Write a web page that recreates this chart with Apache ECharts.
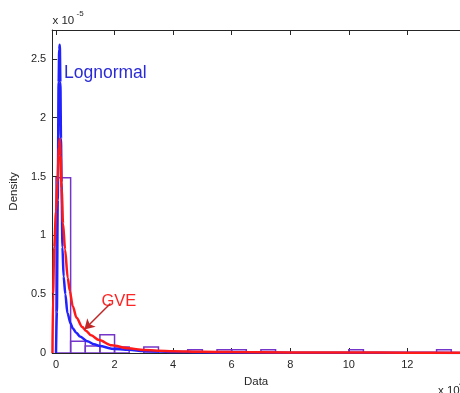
<!DOCTYPE html>
<html><head><meta charset="utf-8">
<script src="https://cdn.jsdelivr.net/npm/echarts@6/dist/echarts.min.js"></script>
<style>html,body{margin:0;padding:0;background:#fff}#c{width:460px;height:393px}</style>
</head><body><div id="c"></div>
<script>
// Tick labels (x in units of 1e4, density in units of 1e-5)
const xTicks = [0, 2, 4, 6, 8, 10, 12];
const yTicks = [0, 0.5, 1, 1.5, 2, 2.5];

// Histogram: bin start, bin width, bar heights
const binStarts = [0, 0.5, 1.0, 1.5, 2.0, 3.0, 4.5, 5.5, 6.0, 7.0, 10.0, 13.0];
const binWidth = 0.5;
const binHeights = [1.49, 0.10, 0.06, 0.155, 0.05, 0.05, 0.028, 0.028, 0.028, 0.028, 0.028, 0.028];

// Lognormal fit curve
const lognX = [0, 0.03, 0.06, 0.09, 0.11, 0.13, 0.15, 0.17, 0.19, 0.22, 0.26, 0.32, 0.39, 0.5, 0.57, 0.7, 0.82, 1.07, 1.3, 1.5, 1.9, 2.5, 3.0, 3.5, 4.0, 5.0, 6.0, 8.0, 10.0, 12.0, 13.8];
const lognY = [0, 0.35, 1.3, 2.3, 2.58, 2.62, 2.3, 1.82, 1.45, 0.9, 0.65, 0.5, 0.34, 0.25, 0.21, 0.17, 0.14, 0.1, 0.075, 0.06, 0.037, 0.027, 0.016, 0.012, 0.009, 0.006, 0.004, 0.003, 0.002, 0.0015, 0.001];

// GVE fit curve
const gveX = [-0.12, -0.1, -0.06, 0.0, 0.05, 0.1, 0.13, 0.16, 0.19, 0.24, 0.31, 0.4, 0.47, 0.57, 0.7, 0.9, 1.02, 1.2, 1.47, 1.9, 2.47, 3.0, 3.47, 4.0, 5.0, 6.0, 8.0, 10.0, 12.0, 13.8];
const gveY = [0, 0.5, 0.9, 1.2, 1.45, 1.75, 1.82, 1.68, 1.4, 1.1, 0.88, 0.64, 0.53, 0.4, 0.3, 0.22, 0.19, 0.15, 0.11, 0.065, 0.04, 0.026, 0.02, 0.015, 0.01, 0.008, 0.005, 0.004, 0.003, 0.0025];

// Annotation arrow (data coords)
const arrowFrom = [1.86, 0.42];
const arrowTo = [0.97, 0.2];

const X_MIN = -0.13, X_MAX = 13.8, Y_MIN = 0, Y_MAX = 2.745;
const FONT = '"Liberation Sans", Arial, sans-serif';
const AX = '#262626';

const histData = binStarts.map((s, i) => [s, binHeights[i]]);
const lognData = lognX.map((x, i) => [x, lognY[i]]);
const gveData = gveX.map((x, i) => [x, gveY[i]]);

const chart = echarts.init(document.getElementById('c'), null, {renderer: 'canvas'});
chart.setOption({
  animation: false,
  backgroundColor: '#fff',
  grid: {left: 52, top: 30, width: 418, height: 326, show: false},
  xAxis: [{
    type: 'value', min: X_MIN, max: X_MAX, position: 'bottom',
    name: 'Data', nameLocation: 'middle', nameGap: 23,
    nameTextStyle: {fontFamily: FONT, fontSize: 11.5, color: AX},
    axisLine: {show: true, onZero: false, lineStyle: {color: AX, width: 1}},
    axisTick: {show: true, inside: true, length: 5, customValues: xTicks, lineStyle: {color: AX}},
    axisLabel: {show: true, customValues: xTicks, margin: 6, fontFamily: FONT, fontSize: 11, color: AX},
    splitLine: {show: false}
  }, {
    type: 'value', min: X_MIN, max: X_MAX, position: 'top',
    axisLine: {show: true, onZero: false, lineStyle: {color: AX, width: 1}},
    axisTick: {show: true, inside: true, length: 5, customValues: xTicks, lineStyle: {color: AX}},
    axisLabel: {show: false},
    splitLine: {show: false}
  }],
  yAxis: [{
    type: 'value', min: Y_MIN, max: Y_MAX,
    name: 'Density', nameLocation: 'middle', nameGap: 26, nameRotate: 90,
    nameTextStyle: {fontFamily: FONT, fontSize: 11.5, color: AX},
    axisLine: {show: true, onZero: false, lineStyle: {color: AX, width: 1}},
    axisTick: {show: true, inside: true, length: 5, customValues: yTicks, lineStyle: {color: AX}},
    axisLabel: {show: true, customValues: yTicks, margin: 6, fontFamily: FONT, fontSize: 11, color: AX},
    splitLine: {show: false}
  }],
  series: [{
    type: 'custom',
    name: 'hist',
    xAxisIndex: 0, yAxisIndex: 0,
    clip: true,
    silent: true,
    encode: {x: 0, y: 1},
    data: histData,
    renderItem: function (params, api) {
      const x0 = api.value(0), h = api.value(1);
      const p0 = api.coord([x0, h]);
      const p1 = api.coord([x0 + binWidth, 0]);
      return {
        type: 'rect',
        shape: {x: p0[0], y: p0[1], width: p1[0] - p0[0], height: p1[1] - p0[1]},
        style: {fill: 'none', stroke: '#7436c8', lineWidth: 1.5}
      };
    }
  }, {
    type: 'line', name: 'Lognormal', data: lognData,
    xAxisIndex: 0, yAxisIndex: 0,
    showSymbol: false, symbol: 'none', clip: true, silent: true,
    smooth: 0.3, smoothMonotone: 'x',
    lineStyle: {color: '#2222ff', width: 2.5}
  }, {
    type: 'line', name: 'GVE', data: gveData,
    xAxisIndex: 0, yAxisIndex: 0,
    showSymbol: false, symbol: 'none', clip: true, silent: true,
    smooth: 0.3, smoothMonotone: 'x',
    lineStyle: {color: '#ff1a1a', width: 2.5},
    markLine: {
      silent: true,
      symbol: ['none', 'arrow'],
      symbolSize: [9, 10],
      label: {show: false},
      lineStyle: {color: '#c02828', width: 1.5, type: 'solid'},
      data: [[{coord: arrowFrom}, {coord: arrowTo}]]
    }
  }],
  graphic: [
    {type: 'text', left: 64, top: 64.5, silent: true,
     style: {text: 'Lognormal', font: '17.5px ' + FONT, fill: '#2b2bd6'}},
    {type: 'text', left: 101.5, top: 293, silent: true,
     style: {text: 'GVE', font: '16.5px ' + FONT, fill: '#ff2424'}},
    {type: 'text', left: 52.5, top: 14.5, silent: true,
     style: {text: 'x 10', font: '11.5px ' + FONT, fill: AX}},
    {type: 'text', left: 76.5, top: 9.5, silent: true,
     style: {text: '-5', font: '8px ' + FONT, fill: AX}},
    {type: 'text', left: 438, top: 385, silent: true,
     style: {text: 'x 10', font: '11.5px ' + FONT, fill: AX}},
    {type: 'text', left: 459, top: 380, silent: true,
     style: {text: '4', font: '8px ' + FONT, fill: AX}}
  ]
});
</script>
</body></html>
